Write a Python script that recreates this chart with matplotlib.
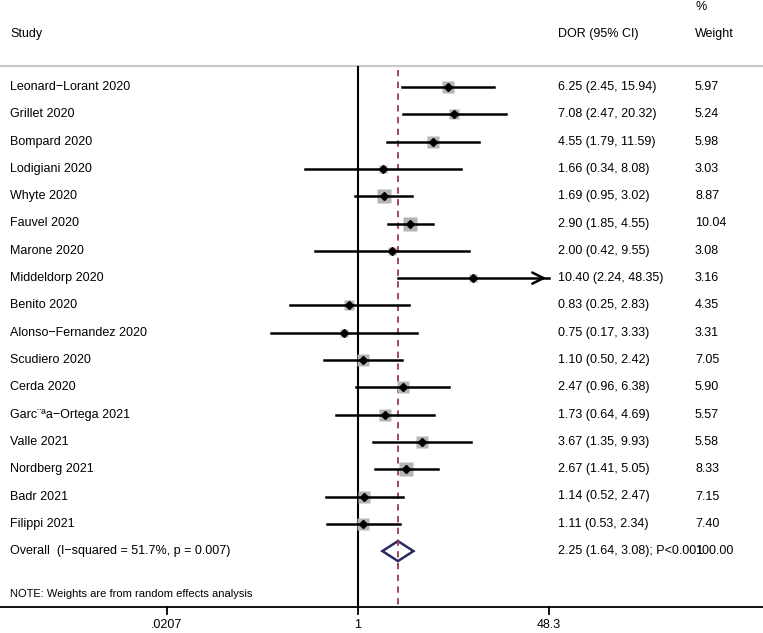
import numpy as np
import matplotlib
matplotlib.use("Agg")
import matplotlib.pyplot as plt
import matplotlib.transforms as mtransforms

plt.rcParams["font.family"] = ["Liberation Sans", "DejaVu Sans"]

# Study data
studies = [
    "Leonard−Lorant 2020", "Grillet 2020", "Bompard 2020", "Lodigiani 2020",
    "Whyte 2020", "Fauvel 2020", "Marone 2020", "Middeldorp 2020",
    "Benito 2020", "Alonso−Fernandez 2020", "Scudiero 2020", "Cerda 2020",
    "Garc¨ªa−Ortega 2021", "Valle 2021", "Nordberg 2021", "Badr 2021",
    "Filippi 2021",
]
dor = [6.25, 7.08, 4.55, 1.66, 1.69, 2.90, 2.00, 10.40, 0.83, 0.75,
       1.10, 2.47, 1.73, 3.67, 2.67, 1.14, 1.11]
ci_lo = [2.45, 2.47, 1.79, 0.34, 0.95, 1.85, 0.42, 2.24, 0.25, 0.17,
         0.50, 0.96, 0.64, 1.35, 1.41, 0.52, 0.53]
ci_hi = [15.94, 20.32, 11.59, 8.08, 3.02, 4.55, 9.55, 48.35, 2.83, 3.33,
         2.42, 6.38, 4.69, 9.93, 5.05, 2.47, 2.34]
weights = [5.97, 5.24, 5.98, 3.03, 8.87, 10.04, 3.08, 3.16, 4.35, 3.31,
           7.05, 5.90, 5.57, 5.58, 8.33, 7.15, 7.40]

overall = 2.25
overall_lo = 1.64
overall_hi = 3.08
overall_label = "Overall  (I−squared = 51.7%, p = 0.007)"
overall_text = "2.25 (1.64, 3.08); P<0.001"
overall_weight = "100.00"

xticks = [0.0207, 1, 48.3]
xticklabels = [".0207", "1", "48.3"]

W, H = 763, 633
fig = plt.figure(figsize=(W / 100, H / 100), dpi=100)
ax = fig.add_axes([0, 0, 1, 1])
ax.set_xscale("log")
ax.set_xlim(10 ** -3.157, 10 ** 3.571)
ax.set_ylim(H, 0)  # y in pixel-like units, top = 0
ax.axis("off")

# column x positions in axes fraction, y in data
tr = mtransforms.blended_transform_factory(ax.transAxes, ax.transData)
x_study = 10 / W
x_dor = 558 / W
x_wt = 695 / W
fs = 9

row0, step = 87, 27.3
rows = row0 + step * np.arange(len(studies))
y_overall = rows[-1] + step
y_axis = 607

# header
ax.text(x_study, 34, "Study", transform=tr, fontsize=fs, va="center")
ax.text(x_dor, 34, "DOR (95% CI)", transform=tr, fontsize=fs, va="center")
ax.text(x_wt, 7, "%", transform=tr, fontsize=fs, va="center")
ax.text(x_wt, 34, "Weight", transform=tr, fontsize=fs, va="center")
ax.axhline(66, color="#c8c8c8", lw=1.5)

# reference lines
ax.plot([1, 1], [67, y_axis], color="black", lw=1.5)
ax.plot([overall, overall], [70, y_axis], color="#9b3a4a", lw=1.3,
        linestyle=(0, (3.5, 3)))

xmax = xticks[-1]
for i, name in enumerate(studies):
    y = rows[i]
    side = 4.7 * np.sqrt(weights[i])
    ax.plot(dor[i], y, marker="s", ms=side * 0.72, color="#b4b4b4", mec="none")
    if ci_hi[i] > xmax:
        ax.plot([ci_lo[i], xmax], [y, y], color="black", lw=1.8)
        ax.annotate("", xy=(xmax, y), xytext=(xmax * 0.8, y),
                    arrowprops=dict(arrowstyle="->", color="black", lw=1.8,
                                    mutation_scale=20))
    else:
        ax.plot([ci_lo[i], ci_hi[i]], [y, y], color="black", lw=1.8)
    ax.plot(dor[i], y, marker="D", ms=4.5, color="black")
    ax.text(x_study, y, name, transform=tr, fontsize=fs, va="center")
    ax.text(x_dor, y, f"{dor[i]:.2f} ({ci_lo[i]:.2f}, {ci_hi[i]:.2f})",
            transform=tr, fontsize=fs, va="center")
    ax.text(x_wt, y, f"{weights[i]:.2f}", transform=tr, fontsize=fs, va="center")

# overall diamond
dh = 10
ax.fill([overall_lo, overall, overall_hi, overall],
        [y_overall, y_overall - dh, y_overall, y_overall + dh],
        facecolor="none", edgecolor="#2b2b63", lw=1.8)
ax.text(x_study, y_overall, overall_label, transform=tr, fontsize=fs, va="center")
ax.text(x_dor, y_overall, overall_text, transform=tr, fontsize=fs, va="center")
ax.text(x_wt, y_overall, overall_weight, transform=tr, fontsize=fs, va="center")

ax.text(x_study, 594, "NOTE: Weights are from random effects analysis",
        transform=tr, fontsize=8, va="center")

# x axis
ax.axhline(y_axis, color="black", lw=1.3)
for t, lab in zip(xticks, xticklabels):
    ax.plot([t, t], [y_axis, y_axis + 7], color="black", lw=1.3)
    ax.text(t, y_axis + 18, lab, fontsize=fs, ha="center", va="center")

fig.savefig("out.png", dpi=100)
